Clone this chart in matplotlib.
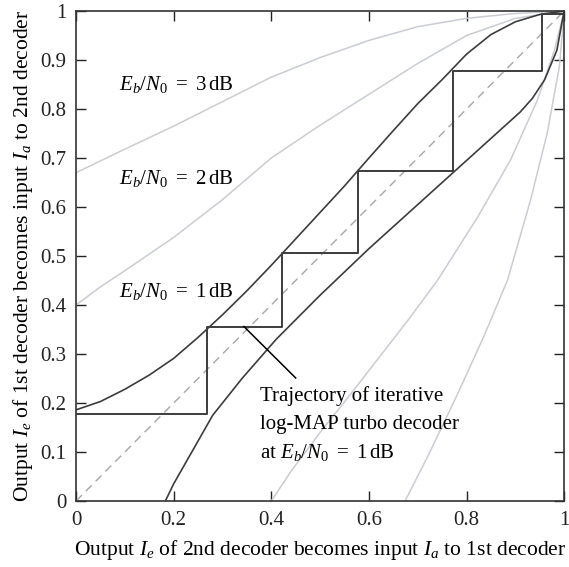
import matplotlib
matplotlib.use("Agg")
import matplotlib.pyplot as plt

plt.rcParams['font.family'] = ['Liberation Serif', 'DejaVu Serif']
plt.rcParams['mathtext.fontset'] = 'custom'
plt.rcParams['mathtext.rm'] = 'Liberation Serif'
plt.rcParams['mathtext.it'] = 'Liberation Serif:italic'

# 1st decoder transfer curves (upper set)
up3_x = [0, 0.1, 0.2, 0.3, 0.4, 0.5, 0.6, 0.7, 0.8, 0.9, 1.0]
up3_y = [0.67, 0.718, 0.765, 0.815, 0.865, 0.905, 0.94, 0.968, 0.985, 0.995, 1.0]
up2_x = [0, 0.05, 0.1, 0.2, 0.3, 0.4, 0.5, 0.6, 0.7, 0.8, 0.9, 1.0]
up2_y = [0.40, 0.437, 0.47, 0.538, 0.615, 0.70, 0.767, 0.83, 0.893, 0.95, 0.985, 1.0]
up1_x = [0, 0.05, 0.1, 0.15, 0.2, 0.25, 0.3, 0.35, 0.4, 0.45, 0.5, 0.55, 0.6, 0.65,
         0.7, 0.75, 0.8, 0.85, 0.9, 0.95, 1.0]
up1_y = [0.186, 0.203, 0.228, 0.257, 0.291, 0.334, 0.38, 0.429, 0.481, 0.535, 0.589,
         0.643, 0.70, 0.756, 0.811, 0.860, 0.912, 0.952, 0.978, 0.993, 1.0]

# 2nd decoder transfer curves (lower set, transposed axes)
lo1_x = [0.183, 0.2, 0.24, 0.28, 0.34, 0.41, 0.5, 0.6, 0.7, 0.77, 0.85, 0.91, 0.935,
         0.96, 0.985, 0.996, 1.0]
lo1_y = [0, 0.035, 0.105, 0.175, 0.25, 0.33, 0.42, 0.515, 0.605, 0.668, 0.74, 0.794,
         0.822, 0.86, 0.92, 0.98, 1.0]
lo2_x = [0.40, 0.442, 0.5, 0.56, 0.62, 0.68, 0.741, 0.823, 0.89, 0.945, 0.98, 1.0]
lo2_y = [0, 0.063, 0.14, 0.215, 0.292, 0.369, 0.451, 0.58, 0.696, 0.818, 0.92, 1.0]
lo3_x = [0.674, 0.72, 0.78, 0.835, 0.884, 0.931, 0.965, 0.99, 1.0]
lo3_y = [0, 0.09, 0.215, 0.335, 0.451, 0.614, 0.75, 0.886, 1.0]

# decoding trajectory at 1 dB
traj_x = [0, 0.268, 0.268, 0.422, 0.422, 0.578, 0.578, 0.772, 0.772, 0.955, 0.955, 1.0]
traj_y = [0.178, 0.178, 0.356, 0.356, 0.507, 0.507, 0.673, 0.673, 0.877, 0.877, 0.994, 0.994]

ticks_x = [0, 0.2, 0.4, 0.6, 0.8, 1]
tick_labels_x = ['0', '0.2', '0.4', '0.6', '0.8', '1']
ticks_y = [0, 0.1, 0.2, 0.3, 0.4, 0.5, 0.6, 0.7, 0.8, 0.9, 1]
tick_labels_y = ['0', '0.1', '0.2', '0.3', '0.4', '0.5', '0.6', '0.7', '0.8', '0.9', '1']

fig = plt.figure(figsize=(5.69, 5.67), dpi=100)
ax = fig.add_axes([0.1336, 0.1164, 0.8580, 0.8642])

gray = '#c9ccd3'
dark = '#3c3c3c'
ax.plot([0, 1], [0, 1], color='#a3a6ad', lw=1.0, dashes=(6, 4))
ax.plot(up3_x, up3_y, color=gray, lw=1.1)
ax.plot(up2_x, up2_y, color=gray, lw=1.1)
ax.plot(lo2_x, lo2_y, color=gray, lw=1.1)
ax.plot(lo3_x, lo3_y, color=gray, lw=1.1)
ax.plot(up1_x, up1_y, color=dark, lw=1.2)
ax.plot(lo1_x, lo1_y, color=dark, lw=1.2)
ax.plot(traj_x, traj_y, color=dark, lw=1.4)

ax.plot([0.344, 0.45], [0.356, 0.251], color='black', lw=1.1)

fs = 15
ax.text(0.088, 0.849, r'$E_b/N_0\ =\ 3\,\mathrm{dB}$', fontsize=fs, va='center', ha='left')
ax.text(0.088, 0.659, r'$E_b/N_0\ =\ 2\,\mathrm{dB}$', fontsize=fs, va='center', ha='left')
ax.text(0.088, 0.427, r'$E_b/N_0\ =\ 1\,\mathrm{dB}$', fontsize=fs, va='center', ha='left')
ax.text(0.377, 0.214, 'Trajectory of iterative', fontsize=fs, va='center', ha='left')
ax.text(0.377, 0.157, 'log-MAP turbo decoder', fontsize=fs, va='center', ha='left')
ax.text(0.377, 0.100, r'at $E_b/N_0\ =\ 1\,\mathrm{dB}$', fontsize=fs, va='center', ha='left')

ax.set_xlim(0, 1)
ax.set_ylim(0, 1)
ax.set_xticks(ticks_x)
ax.set_xticklabels(tick_labels_x)
ax.set_yticks(ticks_y)
ax.set_yticklabels(tick_labels_y)
ax.tick_params(direction='in', length=7, width=1.0, top=True, right=True,
               labelsize=fs, colors='#222222', pad=7)
for s in ax.spines.values():
    s.set_color('#333333')
    s.set_linewidth(1.2)

ax.set_xlabel(r'Output $I_e$ of 2nd decoder becomes input $I_a$ to 1st decoder', fontsize=15.5, labelpad=6)
ax.set_ylabel(r'Output $I_e$ of 1st decoder becomes input $I_a$ to 2nd decoder', fontsize=15.5, labelpad=4)

fig.savefig('out.png', dpi=100)
